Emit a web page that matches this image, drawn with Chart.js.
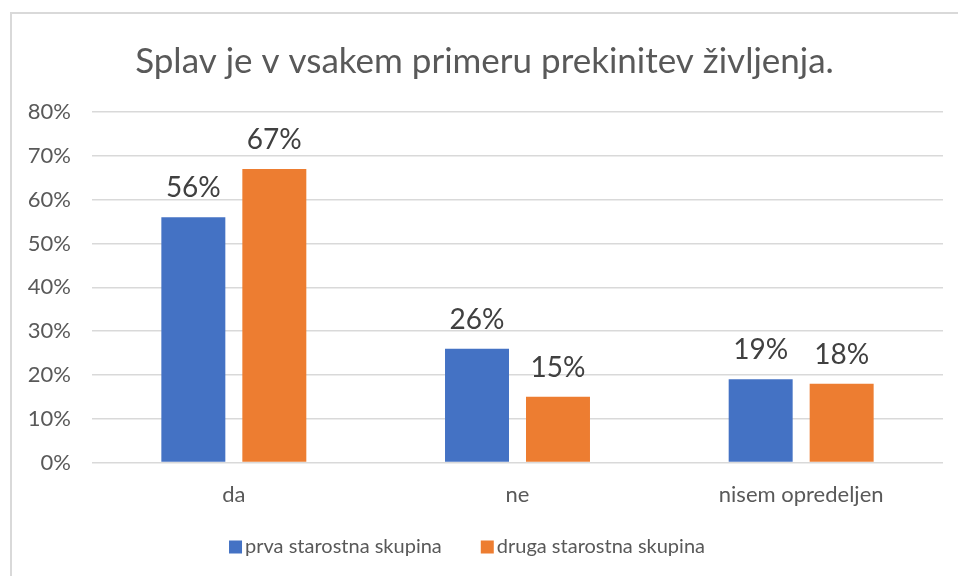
<!DOCTYPE html>
<html>
<head>
<meta charset="utf-8">
<script src="https://cdn.jsdelivr.net/npm/chart.js@4.4.1/dist/chart.umd.min.js"></script>
<style>
  html, body { margin: 0; padding: 0; background: #fff; overflow: hidden; }
  #wrap { position: relative; width: 958px; height: 576px; overflow: hidden; }
  #frame { position: absolute; left: 10px; top: 12px; width: 1000px; height: 1000px; border: 2px solid #d9d9d9; box-sizing: border-box; }
  #chart { position: absolute; left: 0; top: 0; }
</style>
</head>
<body>
<div id="wrap">
  <div id="frame"></div>
  <canvas id="chart" width="958" height="576"></canvas>
</div>
<script>
// DATA
const categories = ['da', 'ne', 'nisem opredeljen'];
const prvaSkupina = [56, 26, 19];
const drugaSkupina = [67, 15, 18];
const seriesNames = ['prva starostna skupina', 'druga starostna skupina'];
const yTicks = [0, 10, 20, 30, 40, 50, 60, 70, 80];

const FONT = 'Lato, "Open Sans", sans-serif';

// draws the value above each bar
const valueLabels = {
    id: 'valueLabels',
    afterDatasetsDraw(chart) {
        const ctx = chart.ctx;
        ctx.save();
        ctx.font = '28px ' + FONT;
        ctx.fillStyle = '#404040';
        ctx.textAlign = 'center';
        ctx.textBaseline = 'bottom';
        chart.data.datasets.forEach((ds, i) => {
            chart.getDatasetMeta(i).data.forEach((bar, j) => {
                ctx.fillText(ds.data[j] + '%', bar.x, bar.y - 15);
            });
        });
        ctx.restore();
    }
};

// legend at the bottom, Excel-like spacing
const bottomLegend = {
    id: 'bottomLegend',
    afterDraw(chart) {
        const ctx = chart.ctx;
        const box = 13, gapText = 3, gapItem = 39, cy = 547, cx = 467;
        ctx.save();
        ctx.font = '20px ' + FONT;
        ctx.textBaseline = 'middle';
        ctx.textAlign = 'left';
        const items = chart.data.datasets.map(ds => ({
            text: ds.label, color: ds.backgroundColor, w: ctx.measureText(ds.label).width
        }));
        let total = 0;
        items.forEach((it, i) => { total += box + gapText + it.w + (i ? gapItem : 0); });
        let x = cx - total / 2;
        items.forEach(it => {
            ctx.fillStyle = it.color;
            ctx.fillRect(x, cy - box / 2, box, box);
            ctx.fillStyle = '#595959';
            ctx.fillText(it.text, x + box + gapText, cy);
            x += box + gapText + it.w + gapItem;
        });
        ctx.restore();
    }
};

new Chart(document.getElementById('chart'), {
    type: 'bar',
    data: {
        labels: categories,
        datasets: [{
            label: seriesNames[0],
            data: prvaSkupina,
            backgroundColor: '#4472C4',
            categoryPercentage: 0.571,
            barPercentage: 0.79
        }, {
            label: seriesNames[1],
            data: drugaSkupina,
            backgroundColor: '#ED7D31',
            categoryPercentage: 0.571,
            barPercentage: 0.79
        }]
    },
    options: {
        responsive: false,
        animation: false,
        layout: { padding: { left: 26, right: 15, top: 41, bottom: 49 } },
        plugins: {
            title: {
                display: true,
                text: 'Splav je v vsakem primeru prekinitev življenja.',
                color: '#595959',
                font: { family: FONT, size: 35, weight: 'normal' },
                padding: { top: 0, bottom: 29 }
            },
            legend: { display: false },
            tooltip: { enabled: false }
        },
        scales: {
            x: {
                grid: { display: false, drawTicks: false },
                border: { display: false },
                ticks: { color: '#595959', font: { family: FONT, size: 22 }, padding: 19 }
            },
            y: {
                min: 0,
                max: 80,
                afterBuildTicks(scale) {
                    scale.ticks = yTicks.map(v => ({ value: v }));
                },
                afterFit(scale) { scale.width = 66; },
                grid: { color: '#d9d9d9', lineWidth: 1.5, drawTicks: false },
                border: { display: false },
                ticks: {
                    color: '#595959',
                    font: { family: FONT, size: 22 },
                    padding: 21,
                    callback: v => v + '%'
                }
            }
        }
    },
    plugins: [valueLabels, bottomLegend]
});
</script>
</body>
</html>
